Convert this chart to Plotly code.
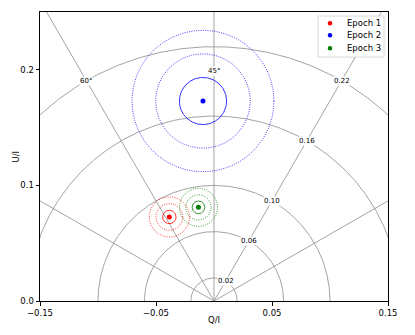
import numpy as np
import plotly.graph_objects as go

# ---- data ----
epochs = ["Epoch 1", "Epoch 2", "Epoch 3"]
q_vals = [-0.0385, -0.0095, -0.0134]
u_vals = [0.0727, 0.1730, 0.0810]
sigmas = [0.0058, 0.0204, 0.0055]
colors = ["red", "blue", "green"]

p_levels = [0.02, 0.06, 0.10, 0.16, 0.22]
p_labels = ["0.02", "0.06", "0.10", "0.16", "0.22"]
angle_levels = [15, 30, 45, 60, 75]
angle_label_vals = [45, 60]
angle_label_radius = [0.199, 0.22]

x_ticks = [-0.15, -0.05, 0.05, 0.15]
x_ticktext = ["\u22120.15", "\u22120.05", "0.05", "0.15"]
y_ticks = [0.0, 0.1, 0.2]
y_ticktext = ["0.0", "0.1", "0.2"]

W, H = 415, 335
ML, MR, MT, MB = 40, 27, 12, 34
PW, PH = W - ML - MR, H - MT - MB


def fx(px):
    return (px - ML) / PW


def fy(py):
    return (H - MB - py) / PH


fig = go.Figure()
grid_col = "#8c8c8c"

# polarization-degree circles
t = np.linspace(0, np.pi, 361)
for p in p_levels:
    fig.add_trace(go.Scatter(x=p * np.cos(t), y=p * np.sin(t), mode="lines",
                             line=dict(color=grid_col, width=0.8),
                             showlegend=False, hoverinfo="skip"))
# polarization-angle lines
for a in angle_levels:
    ang = np.deg2rad(2 * a)
    fig.add_trace(go.Scatter(x=[0, 0.4 * np.cos(ang)], y=[0, 0.4 * np.sin(ang)], mode="lines",
                             line=dict(color=grid_col, width=0.8),
                             showlegend=False, hoverinfo="skip"))

# error circles
tc = np.linspace(0, 2 * np.pi, 721)
for q, u, s, c in zip(q_vals, u_vals, sigmas, colors):
    for k in (1, 2, 3):
        fig.add_trace(go.Scatter(x=q + k * s * np.cos(tc), y=u + k * s * np.sin(tc), mode="lines",
                                 line=dict(color=c, width=0.8 if k == 1 else 0.9,
                                           dash="solid" if k == 1 else "1px,1.3px"),
                                 opacity=1.0 if k == 1 else 0.8,
                                 showlegend=False, hoverinfo="skip"))

# points
for name, q, u, c in zip(epochs, q_vals, u_vals, colors):
    fig.add_trace(go.Scatter(x=[q], y=[u], mode="markers", name=name,
                             marker=dict(color=c, size=5), showlegend=False))

annotations = []
shapes = []
lab_font = dict(size=7, color="black", family="DejaVu Sans")
lab_ang = np.deg2rad(60)
for p, txt in zip(p_levels, p_labels):
    annotations.append(dict(x=p * np.cos(lab_ang), y=p * np.sin(lab_ang), text=txt,
                            showarrow=False, font=lab_font,
                            bgcolor="white", borderpad=0, xref="x", yref="y"))
for a, r in zip(angle_label_vals, angle_label_radius):
    ang = np.deg2rad(2 * a)
    annotations.append(dict(x=r * np.cos(ang), y=r * np.sin(ang), text=f"{a}\u00b0",
                            showarrow=False, font=lab_font,
                            bgcolor="white", borderpad=0, xref="x", yref="y"))

# axis titles
annotations.append(dict(x=0.5, y=fy(320), xref="paper", yref="paper", text="Q/I",
                        showarrow=False, font=dict(size=8.5), xanchor="center", yanchor="middle"))
annotations.append(dict(x=fx(15), y=0.5, xref="paper", yref="paper", text="U/I", textangle=-90,
                        showarrow=False, font=dict(size=8.5), xanchor="center", yanchor="middle"))

# legend (matplotlib-style compact box)
shapes.append(dict(type="rect", xref="paper", yref="paper",
                   x0=fx(318), x1=fx(384), y0=fy(57), y1=fy(16),
                   line=dict(color="#d0d0d0", width=0.8), fillcolor="rgba(255,255,255,0.85)"))
row_py = [23.3, 35.3, 48.3]
for name, c, py in zip(epochs, colors, row_py):
    shapes.append(dict(type="circle", xref="paper", yref="paper", xsizemode="pixel", ysizemode="pixel",
                       xanchor=fx(330), yanchor=fy(py), x0=-2.3, x1=2.3, y0=-2.3, y1=2.3,
                       fillcolor=c, line=dict(width=0)))
    annotations.append(dict(x=fx(344.5), y=fy(py), xref="paper", yref="paper", text=name,
                            showarrow=False, font=dict(size=8.5), xanchor="left", yanchor="middle"))

fig.update_layout(
    width=W, height=H,
    margin=dict(l=ML, r=MR, t=MT, b=MB, autoexpand=False),
    paper_bgcolor="white", plot_bgcolor="white",
    font=dict(family="DejaVu Sans", size=8.5, color="black"),
    showlegend=False,
    annotations=annotations,
    shapes=shapes,
)
fig.update_xaxes(range=[-0.15, 0.15], tickvals=x_ticks, ticktext=x_ticktext, automargin=False,
                 showgrid=False, zeroline=False, showline=True, linecolor="black", linewidth=1,
                 mirror=True, ticks="outside", ticklen=3.5, tickcolor="black", tickfont=dict(size=8.5))
fig.update_yaxes(range=[0, 0.25], tickvals=y_ticks, ticktext=y_ticktext, automargin=False,
                 showgrid=False, zeroline=False, showline=True, linecolor="black", linewidth=1,
                 mirror=True, ticks="outside", ticklen=3.5, tickcolor="black", tickfont=dict(size=8.5))

fig.write_html("out.html", config={"displayModeBar": False},
               post_script="document.body.style.margin='0';")
